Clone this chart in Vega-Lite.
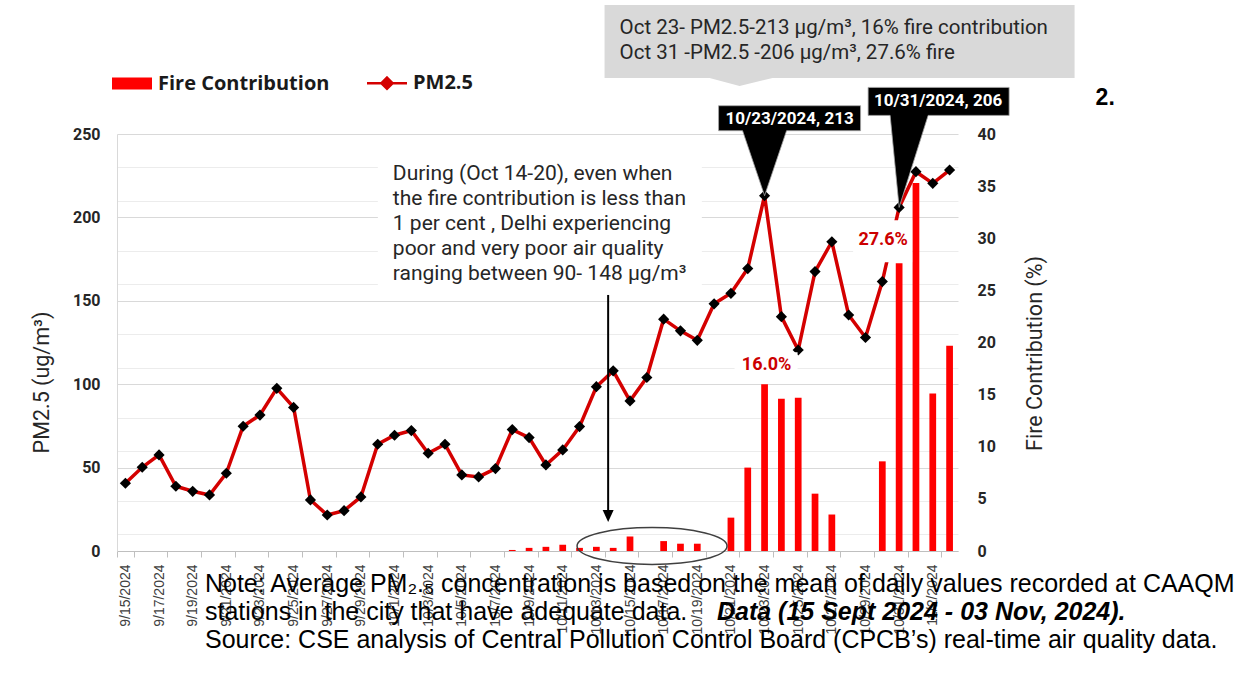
{
  "$schema": "https://vega.github.io/schema/vega-lite/v6.json",
  "width": 841,
  "height": 417,
  "autosize": {"type": "none"},
  "padding": {"left": 117, "top": 134, "right": 285, "bottom": 134},
  "background": "white",
  "config": {"view": {"stroke": null}, "axis": {"zindex": 0}},
  "datasets": {
    "daily": [
      {"date": "9/15/2024", "pm25": 40.6, "fire": null},
      {"date": "9/16/2024", "pm25": 50.2, "fire": null},
      {"date": "9/17/2024", "pm25": 57.6, "fire": null},
      {"date": "9/18/2024", "pm25": 38.8, "fire": null},
      {"date": "9/19/2024", "pm25": 35.8, "fire": null},
      {"date": "9/20/2024", "pm25": 33.6, "fire": null},
      {"date": "9/21/2024", "pm25": 46.6, "fire": null},
      {"date": "9/22/2024", "pm25": 74.8, "fire": null},
      {"date": "9/23/2024", "pm25": 81.5, "fire": null},
      {"date": "9/24/2024", "pm25": 97.5, "fire": null},
      {"date": "9/25/2024", "pm25": 86.1, "fire": null},
      {"date": "9/26/2024", "pm25": 30.6, "fire": null},
      {"date": "9/27/2024", "pm25": 21.6, "fire": null},
      {"date": "9/28/2024", "pm25": 24.2, "fire": null},
      {"date": "9/29/2024", "pm25": 32.4, "fire": null},
      {"date": "9/30/2024", "pm25": 64.0, "fire": null},
      {"date": "10/1/2024", "pm25": 69.4, "fire": null},
      {"date": "10/2/2024", "pm25": 72.2, "fire": null},
      {"date": "10/3/2024", "pm25": 58.6, "fire": null},
      {"date": "10/4/2024", "pm25": 64.0, "fire": null},
      {"date": "10/5/2024", "pm25": 45.6, "fire": null},
      {"date": "10/6/2024", "pm25": 44.4, "fire": null},
      {"date": "10/7/2024", "pm25": 49.4, "fire": null},
      {"date": "10/8/2024", "pm25": 72.8, "fire": 0.1},
      {"date": "10/9/2024", "pm25": 68.0, "fire": 0.3},
      {"date": "10/10/2024", "pm25": 51.6, "fire": 0.4},
      {"date": "10/11/2024", "pm25": 60.6, "fire": 0.6},
      {"date": "10/12/2024", "pm25": 74.6, "fire": 0.3},
      {"date": "10/13/2024", "pm25": 98.5, "fire": 0.4},
      {"date": "10/14/2024", "pm25": 108.0, "fire": 0.3},
      {"date": "10/15/2024", "pm25": 90.0, "fire": 1.4},
      {"date": "10/16/2024", "pm25": 104.0, "fire": null},
      {"date": "10/17/2024", "pm25": 139.0, "fire": 0.95},
      {"date": "10/18/2024", "pm25": 132.0, "fire": 0.7},
      {"date": "10/19/2024", "pm25": 126.3, "fire": 0.7},
      {"date": "10/20/2024", "pm25": 148.2, "fire": null},
      {"date": "10/21/2024", "pm25": 154.5, "fire": 3.2},
      {"date": "10/22/2024", "pm25": 169.3, "fire": 8.0},
      {"date": "10/23/2024", "pm25": 213, "fire": 16.0},
      {"date": "10/24/2024", "pm25": 140.5, "fire": 14.6},
      {"date": "10/25/2024", "pm25": 120.5, "fire": 14.7},
      {"date": "10/26/2024", "pm25": 167.5, "fire": 5.5},
      {"date": "10/27/2024", "pm25": 185.4, "fire": 3.5},
      {"date": "10/28/2024", "pm25": 141.5, "fire": null},
      {"date": "10/29/2024", "pm25": 128.0, "fire": null},
      {"date": "10/30/2024", "pm25": 161.5, "fire": 8.6},
      {"date": "10/31/2024", "pm25": 206, "fire": 27.6},
      {"date": "11/1/2024", "pm25": 227.4, "fire": 35.3},
      {"date": "11/2/2024", "pm25": 220.4, "fire": 15.1},
      {"date": "11/3/2024", "pm25": 228.4, "fire": 19.7}
    ]
  },
  "layer": [
    {
      "data": {"name": "daily"},
      "mark": {"type": "bar", "width": {"band": 0.4}},
      "encoding": {
        "x": {
          "field": "date", "type": "ordinal",
          "scale": {
            "domain": ["9/15/2024","9/16/2024","9/17/2024","9/18/2024","9/19/2024","9/20/2024","9/21/2024","9/22/2024","9/23/2024","9/24/2024","9/25/2024","9/26/2024","9/27/2024","9/28/2024","9/29/2024","9/30/2024","10/1/2024","10/2/2024","10/3/2024","10/4/2024","10/5/2024","10/6/2024","10/7/2024","10/8/2024","10/9/2024","10/10/2024","10/11/2024","10/12/2024","10/13/2024","10/14/2024","10/15/2024","10/16/2024","10/17/2024","10/18/2024","10/19/2024","10/20/2024","10/21/2024","10/22/2024","10/23/2024","10/24/2024","10/25/2024","10/26/2024","10/27/2024","10/28/2024","10/29/2024","10/30/2024","10/31/2024","11/1/2024","11/2/2024","11/3/2024"],
            "paddingInner": 0, "paddingOuter": 0
          },
          "axis": {
            "title": null,
            "values": ["9/15/2024","9/17/2024","9/19/2024","9/21/2024","9/23/2024","9/25/2024","9/27/2024","9/29/2024","10/1/2024","10/3/2024","10/5/2024","10/7/2024","10/9/2024","10/11/2024","10/13/2024","10/15/2024","10/17/2024","10/19/2024","10/21/2024","10/23/2024","10/25/2024","10/27/2024","10/29/2024","10/31/2024","11/2/2024"],
            "labelAngle": -90,
            "labelFont": "Liberation Sans",
            "labelFontSize": 14,
            "labelColor": "#404040",
            "labelPadding": 7,
            "labelOverlap": false,
            "tickSize": 6,
            "tickColor": "#bfbfbf",
            "tickBand": "extent",
            "domainColor": "#bfbfbf",
            "grid": false
          }
        },
        "y": {
          "field": "fire", "type": "quantitative",
          "scale": {"domain": [0, 40], "nice": false},
          "axis": {
            "orient": "right",
            "title": "Fire Contribution (%)",
            "values": [0,5,10,15,20,25,30,35,40],
            "grid": false, "ticks": false, "domain": false,
            "labelPadding": 19,
            "labelOverlap": false,
            "labelFont": "Roboto", "labelFontSize": 16, "labelFontWeight": "bold", "labelColor": "#262626",
            "titleFont": "Roboto", "titleFontSize": 21.5, "titleFontWeight": "normal", "titleColor": "#262626",
            "titleAngle": 270, "titleX": 77, "titleY": 219, "titleAlign": "center", "titleBaseline": "middle"
          }
        },
        "color": {
          "datum": "Fire Contribution",
          "scale": {"domain": ["Fire Contribution", "PM2.5"], "range": ["#ff0000", "#d40000"]},
          "legend": {
            "title": null,
            "orient": "none",
            "legendX": 5,
            "legendY": -61,
            "direction": "horizontal",
            "padding": 0,
            "symbolSize": 1600,
            "labelFont": "Open Sans",
            "labelFontSize": 20,
            "labelFontWeight": "bold",
            "labelColor": "#1a1a1a",
            "labelOffset": 16,
            "labelLimit": 400,
            "columnPadding": 32,
            "encode": {
              "symbols": {
                "update": {
                  "shape": {"signal": "datum.value === 'PM2.5' ? 'M-1,0H1M0,-0.28L0.28,0L0,0.28L-0.28,0Z' : 'M-1,-0.3H1V0.3H-1Z'"},
                  "fill": {"signal": "datum.value === 'PM2.5' ? '#000000' : '#ff0000'"},
                  "stroke": {"signal": "datum.value === 'PM2.5' ? '#d40000' : '#ff0000'"},
                  "strokeWidth": {"signal": "datum.value === 'PM2.5' ? 2.5 : 0"},
                  "opacity": {"value": 1}
                }
              }
            }
          }
        }
      }
    },
    {
      "layer": [
        {
          "data": {"name": "daily"},
          "mark": {"type": "line", "color": "#d40000", "strokeWidth": 3.5},
          "encoding": {
            "x": {"field": "date", "type": "ordinal"},
            "y": {
              "field": "pm25", "type": "quantitative",
              "scale": {"domain": [0, 250], "nice": false},
              "axis": {
                "orient": "left",
                "title": "PM2.5 (ug/m³)",
                "values": [0,50,100,150,200,250],
                "labelOverlap": false,
                "ticks": false,
                "domainColor": "#d9d9d9",
                "grid": true,
                "gridColor": "#d9d9d9",
                "gridWidth": 1,
                "labelPadding": 17,
                "labelFont": "Roboto", "labelFontSize": 16, "labelFontWeight": "bold", "labelColor": "#262626",
                "titleFont": "Roboto", "titleFontSize": 21.5, "titleFontWeight": "normal", "titleColor": "#262626",
                "titleAngle": 270, "titleX": -75, "titleY": 248, "titleAlign": "center", "titleBaseline": "middle"
              }
            }
          }
        },
        {
          "data": {"name": "daily"},
          "mark": {"type": "point", "shape": "diamond", "filled": true, "color": "#000000", "size": 125, "opacity": 1},
          "encoding": {
            "x": {"field": "date", "type": "ordinal"},
            "y": {"field": "pm25", "type": "quantitative"}
          }
        },
        {
          "data": {"values": [{}]},
          "mark": {"type": "rule", "color": "#000000", "strokeWidth": 2},
          "encoding": {
            "x": {"datum": "10/14/2024", "type": "ordinal", "bandPosition": 0.2},
            "y": {"datum": 153.5},
            "y2": {"datum": 23}
          }
        },
        {
          "data": {"values": [{}]},
          "mark": {"type": "point", "shape": "M-5.5,-6H5.5L0,6Z", "size": 4, "filled": true, "color": "#000000", "opacity": 1},
          "encoding": {
            "x": {"datum": "10/14/2024", "type": "ordinal", "bandPosition": 0.2},
            "y": {"datum": 21}
          }
        },
        {
          "data": {"values": [{}]},
          "mark": {"type": "point", "shape": "M-75,0A75,18.5 0 1,0 75,0A75,18.5 0 1,0 -75,0", "size": 4, "filled": false, "color": "#404040", "strokeWidth": 1.5, "opacity": 1},
          "encoding": {
            "x": {"datum": "10/16/2024", "type": "ordinal", "bandPosition": 0.81},
            "y": {"datum": 3}
          }
        },
        {
          "data": {"values": [{}]},
          "mark": {"type": "point", "shape": "M-160,-129H310V-56H8L-25,-48L-55,-56H-160Z", "size": 4, "filled": true, "color": "#d9d9d9", "opacity": 1, "strokeWidth": 0},
          "encoding": {
            "x": {"datum": "10/23/2024", "type": "ordinal"},
            "y": {"datum": 250}
          }
        },
        {
          "data": {"values": [{}]},
          "mark": {
            "type": "text",
            "text": ["Oct 23- PM2.5-213 µg/m³,  16% fire contribution", "Oct 31 -PM2.5 -206 µg/m³, 27.6% fire"],
            "font": "Roboto", "fontSize": 20.5, "color": "#262626",
            "align": "left", "baseline": "alphabetic", "lineHeight": 24.7,
            "dx": -145, "dy": -100
          },
          "encoding": {
            "x": {"datum": "10/23/2024", "type": "ordinal"},
            "y": {"datum": 250}
          }
        },
        {
          "data": {"values": [{}]},
          "mark": {"type": "point", "shape": "M-46,-90H96V-65H22L0,0L-22,-65H-46Z", "size": 4, "filled": true, "color": "#000000", "opacity": 1, "stroke": "#a6a6a6", "strokeWidth": 0.8},
          "encoding": {
            "x": {"datum": "10/23/2024", "type": "ordinal"},
            "y": {"datum": 213}
          }
        },
        {
          "data": {"values": [{}]},
          "mark": {"type": "text", "text": "10/23/2024, 213", "font": "Roboto", "fontSize": 17, "fontWeight": "bold", "color": "#ffffff", "align": "center", "baseline": "middle", "dx": 25, "dy": -77},
          "encoding": {
            "x": {"datum": "10/23/2024", "type": "ordinal"},
            "y": {"datum": 213}
          }
        },
        {
          "data": {"values": [{}]},
          "mark": {"type": "point", "shape": "M-31,-120H110V-92H29L0,0L-9,-92H-31Z", "size": 4, "filled": true, "color": "#000000", "opacity": 1, "stroke": "#a6a6a6", "strokeWidth": 0.8},
          "encoding": {
            "x": {"datum": "10/31/2024", "type": "ordinal"},
            "y": {"datum": 206}
          }
        },
        {
          "data": {"values": [{}]},
          "mark": {"type": "text", "text": "10/31/2024, 206", "font": "Roboto", "fontSize": 17, "fontWeight": "bold", "color": "#ffffff", "align": "center", "baseline": "middle", "dx": 39, "dy": -106},
          "encoding": {
            "x": {"datum": "10/31/2024", "type": "ordinal"},
            "y": {"datum": 206}
          }
        },
        {
          "data": {"values": [{}]},
          "mark": {"type": "text", "text": "2.", "font": "Liberation Sans", "fontSize": 23, "fontWeight": "bold", "color": "#000000", "align": "left", "baseline": "alphabetic", "dx": 146, "dy": -29},
          "encoding": {
            "x": {"datum": "11/3/2024", "type": "ordinal"},
            "y": {"datum": 250}
          }
        },
        {
          "data": {"values": [{}]},
          "mark": {
            "type": "text",
            "text": ["Note: Average PM₂.₅ concentration is based on the mean of daily values recorded at CAAQM", "stations in the city that have adequate data.", "Source: CSE analysis of Central Pollution Control Board (CPCB’s) real-time air quality data."],
            "font": "Liberation Sans", "fontSize": 25, "color": "#000000",
            "align": "left", "baseline": "alphabetic", "lineHeight": 28, "dy": 41
          },
          "encoding": {
            "x": {"datum": "9/20/2024", "type": "ordinal", "bandPosition": 0.23},
            "y": {"datum": 0}
          }
        },
        {
          "data": {"values": [{}]},
          "mark": {
            "type": "text",
            "text": "Data (15 Sept 2024 - 03 Nov, 2024).",
            "font": "Liberation Sans", "fontSize": 25, "fontWeight": "bold", "fontStyle": "italic", "color": "#000000",
            "align": "left", "baseline": "alphabetic", "dx": 512, "dy": 69
          },
          "encoding": {
            "x": {"datum": "9/20/2024", "type": "ordinal", "bandPosition": 0.23},
            "y": {"datum": 0}
          }
        }
      ]
    },
    {
      "layer": [
        {
          "data": {"values": [{}]},
          "mark": {"type": "point", "shape": "M-15,2H309V142H-15Z", "size": 4, "filled": true, "color": "white", "opacity": 1, "strokeWidth": 0},
          "encoding": {
            "x": {"datum": "10/1/2024", "type": "ordinal", "bandPosition": 0.4},
            "y": {
              "datum": 240,
              "scale": {"domain": [0, 250], "nice": false},
              "axis": {
                "orient": "left",
                "title": null,
                "values": [10,20,30,40,60,70,80,90,110,120,130,140,160,170,180,190,210,220,230,240],
                "labels": false,
                "ticks": false,
                "domain": false,
                "grid": true,
                "gridColor": "#ececec",
                "gridWidth": 1
              }
            }
          }
        },
        {
          "data": {"values": [{}]},
          "mark": {
            "type": "text",
            "text": ["During (Oct 14-20), even when", "the fire contribution is less than", "1 per cent , Delhi experiencing", "poor and very poor air quality", "ranging between 90- 148 µg/m³"],
            "font": "Roboto", "fontSize": 21, "color": "#262626",
            "align": "left", "baseline": "top", "lineHeight": 25
          },
          "encoding": {
            "x": {"datum": "10/1/2024", "type": "ordinal", "bandPosition": 0.4},
            "y": {"datum": 232.4}
          }
        }
      ]
    },
    {
      "layer": [
        {
          "data": {"values": [{}]},
          "mark": {"type": "point", "shape": "M-30,-32H33V-4H-30Z", "size": 4, "filled": true, "color": "white", "opacity": 1, "strokeWidth": 0},
          "encoding": {
            "x": {"datum": "10/23/2024", "type": "ordinal"},
            "y": {"datum": 16.0, "scale": {"domain": [0, 40], "nice": false}, "axis": null}
          }
        },
        {
          "data": {"values": [{}]},
          "mark": {"type": "text", "text": "16.0%", "font": "Roboto", "fontSize": 18, "fontWeight": "bold", "color": "#cc0000", "align": "center", "baseline": "middle", "dx": 2, "dy": -19},
          "encoding": {
            "x": {"datum": "10/23/2024", "type": "ordinal"},
            "y": {"datum": 16.0}
          }
        },
        {
          "data": {"values": [{}]},
          "mark": {"type": "point", "shape": "M-46,-43H13V-1H-46Z", "size": 4, "filled": true, "color": "white", "opacity": 1, "strokeWidth": 0},
          "encoding": {
            "x": {"datum": "10/31/2024", "type": "ordinal"},
            "y": {"datum": 27.6}
          }
        },
        {
          "data": {"values": [{}]},
          "mark": {"type": "text", "text": "27.6%", "font": "Roboto", "fontSize": 18, "fontWeight": "bold", "color": "#cc0000", "align": "center", "baseline": "middle", "dx": -16, "dy": -23},
          "encoding": {
            "x": {"datum": "10/31/2024", "type": "ordinal"},
            "y": {"datum": 27.6}
          }
        }
      ]
    }
  ],
  "resolve": {"scale": {"y": "independent"}}
}
